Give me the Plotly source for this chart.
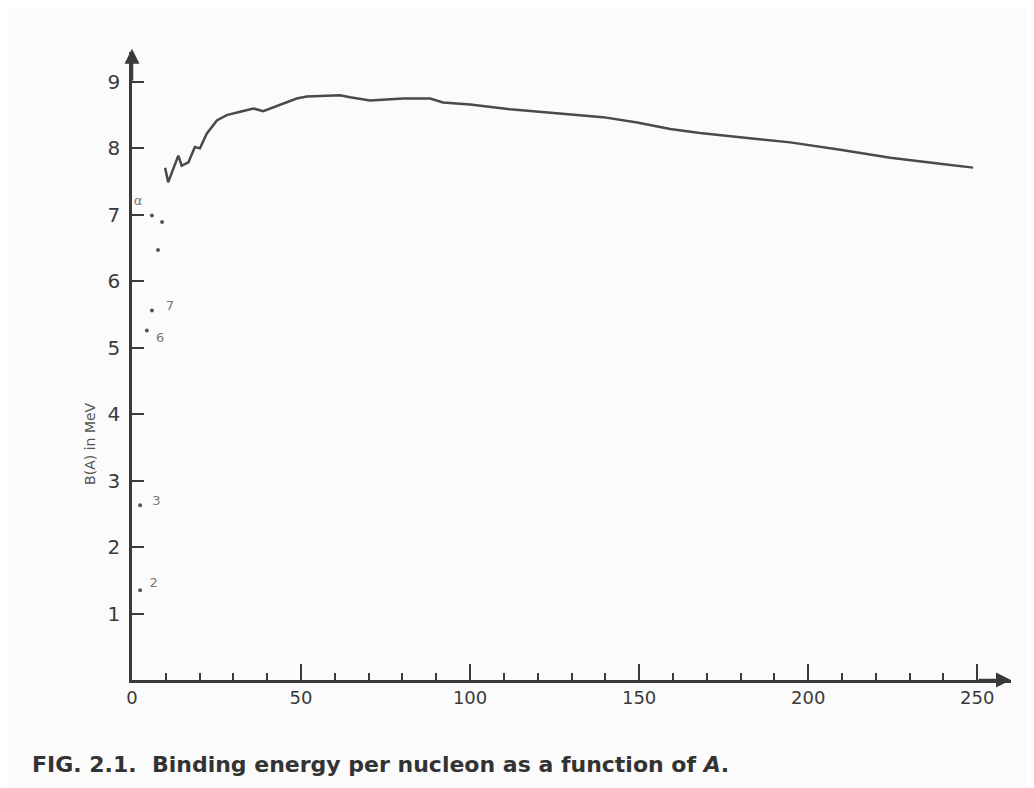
import plotly.graph_objects as go

# Curve: binding energy per nucleon vs A
curve_A = [9.8, 10.7, 13.7, 14.7, 16.7, 18.6, 20.1, 22.1, 25.1, 28.0, 32.0, 35.9, 38.8,
           43.8, 48.7, 51.7, 61.5, 64.5, 70.4, 80.2, 88.2, 92.0, 100.0, 111.8, 125.7,
           139.3, 149.4, 159.2, 168.0, 180.0, 194.7, 209.5, 224.3, 239.0, 248.8]
curve_B = [7.71, 7.49, 7.89, 7.74, 7.79, 8.02, 8.00, 8.22, 8.42, 8.50, 8.55, 8.60, 8.56,
           8.65, 8.75, 8.78, 8.80, 8.77, 8.72, 8.75, 8.75, 8.69, 8.66, 8.59, 8.53,
           8.47, 8.39, 8.29, 8.23, 8.17, 8.09, 7.98, 7.86, 7.77, 7.71]

# Light nuclei points
pts_A = [2.4, 2.4, 4.4, 5.9, 5.9, 8.9, 7.7]
pts_B = [1.35, 2.63, 5.26, 5.56, 6.99, 6.89, 6.47]

# Point labels
lab_text = ["2", "3", "6", "7", "α"]
lab_A = [6.4, 7.2, 8.3, 11.2, 1.8]
lab_B = [1.45, 2.68, 5.14, 5.62, 7.2]

x_ticks = [0, 50, 100, 150, 200, 250]
y_ticks = [1, 2, 3, 4, 5, 6, 7, 8, 9]

ink = "#3a3a3a"

fig = go.Figure()
fig.add_trace(go.Scatter(x=curve_A, y=curve_B, mode="lines",
                         line=dict(color="#4a4a4a", width=2.5), showlegend=False))
fig.add_trace(go.Scatter(x=pts_A, y=pts_B, mode="markers",
                         marker=dict(color="#555555", size=4), showlegend=False))
fig.add_trace(go.Scatter(x=lab_A, y=lab_B, mode="text", text=lab_text,
                         textfont=dict(family="DejaVu Sans", size=13, color="#777777"),
                         showlegend=False))

annotations = [
    # axis arrows
    dict(x=0, y=9.5, ax=0, ay=9.0, xref="x", yref="y", axref="x", ayref="y",
         showarrow=True, arrowhead=2, arrowsize=1.2, arrowwidth=2.5, arrowcolor=ink, text=""),
    dict(x=260, y=0, ax=250, ay=0, xref="x", yref="y", axref="x", ayref="y",
         showarrow=True, arrowhead=2, arrowsize=1.2, arrowwidth=2.5, arrowcolor=ink, text=""),
    dict(x=132, y=-0.48, xref="x", yref="y", text="A", showarrow=False,
         font=dict(family="Liberation Sans", size=17, color=ink), yanchor="middle"),
    dict(x=-0.048, y=3.55, xref="paper", yref="y", xanchor="center", yanchor="middle",
         text="B(A) in MeV", textangle=-90,
         showarrow=False, font=dict(family="DejaVu Sans", size=14, color="#555555")),
    dict(x=-0.1155, y=-0.134, xref="paper", yref="paper", xanchor="left", yanchor="middle",
         text="<b>FIG. 2.1.  Binding energy per nucleon as a function of <i>A</i>.</b>",
         showarrow=False, font=dict(family="DejaVu Sans", size=22, color="#333333")),
]

fig.update_layout(
    width=1026, height=780,
    margin=dict(l=124, r=23, t=44, b=108),
    paper_bgcolor="#fbfbfb", plot_bgcolor="#fbfbfb",
    annotations=annotations,
    xaxis=dict(range=[0, 260], showgrid=False, zeroline=False, showline=True,
               linecolor=ink, linewidth=2.5, tickvals=x_ticks, ticks="inside",
               ticklen=16, tickwidth=2, tickcolor=ink,
               minor=dict(dtick=10, ticks="inside", ticklen=7, tickwidth=2, tickcolor=ink),
               tickfont=dict(family="DejaVu Sans", size=18, color=ink)),
    yaxis=dict(range=[0, 9.45], showgrid=False, zeroline=False, showline=True,
               linecolor=ink, linewidth=2.5, tickvals=y_ticks, ticks="inside",
               ticklen=12, tickwidth=2, tickcolor=ink, ticklabelstandoff=5,
               tickfont=dict(family="DejaVu Sans", size=20, color=ink)),
)

fig.write_html("out.html")
